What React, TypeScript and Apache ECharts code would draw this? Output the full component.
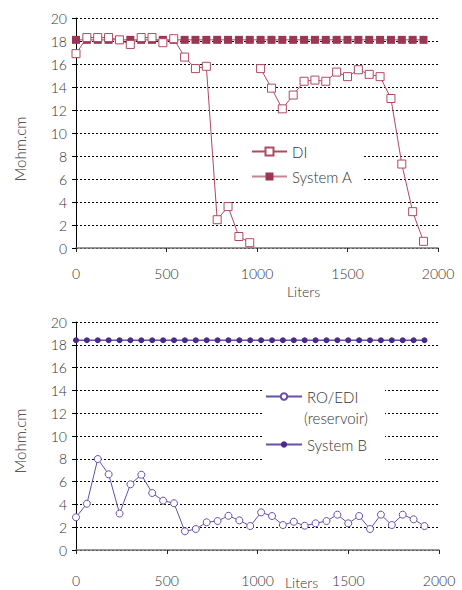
import React, { useEffect, useRef } from "react";
import * as echarts from "echarts";

const FONT = "Lato, 'DejaVu Sans', sans-serif";
const FW = 300;

// Top chart (DI vs System A)
const diX1 = [0, 60, 120, 180, 240, 300, 360, 420, 480, 540, 600, 660, 720, 780, 840, 900, 960];
const diY1 = [16.9, 18.3, 18.3, 18.3, 18.1, 17.7, 18.3, 18.3, 17.85, 18.2, 16.6, 15.6, 15.8, 2.46, 3.6, 1.0, 0.46];
const diX2 = [1020, 1080, 1140, 1200, 1260, 1320, 1380, 1440, 1500, 1560, 1620, 1680, 1740, 1800, 1860, 1920];
const diY2 = [15.6, 13.9, 12.1, 13.3, 14.5, 14.6, 14.5, 15.3, 14.9, 15.5, 15.1, 14.9, 13.0, 7.3, 3.16, 0.58];
const sysAX = [0, 60, 120, 180, 240, 300, 360, 420, 480, 540, 600, 660, 720, 780, 840, 900, 960, 1020, 1080, 1140, 1200, 1260, 1320, 1380, 1440, 1500, 1560, 1620, 1680, 1740, 1800, 1860, 1920];
const sysAY = [18.1, 18.1, 18.1, 18.1, 18.1, 18.1, 18.1, 18.1, 18.1, 18.1, 18.1, 18.1, 18.1, 18.1, 18.1, 18.1, 18.1, 18.1, 18.1, 18.1, 18.1, 18.1, 18.1, 18.1, 18.1, 18.1, 18.1, 18.1, 18.1, 18.1, 18.1, 18.1, 18.1];

// Bottom chart (RO/EDI vs System B)
const roX = [0, 60, 120, 180, 240, 300, 360, 420, 480, 540, 600, 660, 720, 780, 840, 900, 960, 1020, 1080, 1140, 1200, 1260, 1320, 1380, 1440, 1500, 1560, 1620, 1680, 1740, 1800, 1860, 1920];
const roY = [2.87, 4.06, 7.98, 6.64, 3.2, 5.76, 6.6, 5.0, 4.33, 4.1, 1.64, 1.84, 2.43, 2.54, 3.0, 2.6, 2.1, 3.3, 2.98, 2.19, 2.48, 2.13, 2.34, 2.54, 3.1, 2.34, 2.98, 1.84, 3.1, 2.19, 3.1, 2.69, 2.1];
const sysBX = roX;
const sysBY = [18.4, 18.4, 18.4, 18.4, 18.4, 18.4, 18.4, 18.4, 18.4, 18.4, 18.4, 18.4, 18.4, 18.4, 18.4, 18.4, 18.4, 18.4, 18.4, 18.4, 18.4, 18.4, 18.4, 18.4, 18.4, 18.4, 18.4, 18.4, 18.4, 18.4, 18.4, 18.4, 18.4];

const xTicks = { min: 0, max: 2000, interval: 500 };
const yTicks = { min: 0, max: 20, interval: 2 };

const zip = (xs: number[], ys: number[]) => xs.map((x, i) => [x, ys[i]]);

const MAROON = "#9b3752";
const MAROON_LINE = "#b04a63";
const PINK_LINE = "#c98393";
const PURPLE = "#4a2a8a";
const PURPLE_LINE = "#6650aa";

function xAxis(gridIndex: number, margin: number) {
  return {
    type: "value",
    gridIndex,
    ...xTicks,
    axisLine: { show: true, lineStyle: { color: "#777", width: 1.5 } },
    axisTick: { show: true, length: 4, lineStyle: { color: "#222" } },
    axisLabel: { color: "#333", fontSize: 14, fontFamily: FONT, fontWeight: FW, margin, formatter: (v: number) => String(v) },
    splitLine: { show: false },
  };
}

function yAxis(gridIndex: number) {
  return {
    type: "value",
    gridIndex,
    ...yTicks,
    axisLine: { show: true, onZero: false, lineStyle: { color: "#000", width: 1 } },
    axisTick: { show: true, length: 4, lineStyle: { color: "#000" } },
    axisLabel: { color: "#333", fontSize: 14, fontFamily: FONT, fontWeight: FW, margin: 9 },
    splitLine: { show: true, lineStyle: { color: "#000", type: [2, 2], width: 1 } },
  };
}

export default function App() {
  const ref = useRef<HTMLDivElement>(null);
  useEffect(() => {
    document.body.style.margin = "0";
    const chart = echarts.init(ref.current!, undefined, { renderer: "svg" });
    const txt = { fill: "#333", fontFamily: FONT, fontWeight: FW };
    chart.setOption({
      animation: false,
      backgroundColor: "#fff",
      textStyle: { fontFamily: FONT },
      grid: [
        { left: 76, top: 18, width: 362, height: 230 },
        { left: 76, top: 322, width: 363, height: 228 },
      ],
      xAxis: [xAxis(0, 18), xAxis(1, 23)],
      yAxis: [yAxis(0), yAxis(1)],
      legend: [
        {
          orient: "vertical",
          left: 240,
          top: 139,
          itemWidth: 35,
          itemHeight: 10,
          itemGap: 10,
          padding: [5, 10, 5, 11],
          backgroundColor: "#fff",
          textStyle: { fontSize: 15, color: "#333", fontFamily: FONT, fontWeight: FW },
          data: ["DI", "System A"],
        },
        {
          orient: "vertical",
          left: 262,
          top: 377,
          itemWidth: 36,
          itemHeight: 8,
          itemGap: 33,
          padding: [12, 18, 12, 3],
          backgroundColor: "#fff",
          textStyle: { fontSize: 15, color: "#333", fontFamily: FONT, fontWeight: FW },
          data: ["RO/EDI", "System B"],
        },
      ],
      graphic: [
        { type: "text", left: 287, top: 284, z: 100, style: { text: "Liters", fontSize: 14, ...txt } },
        { type: "text", left: 285, top: 575, z: 100, style: { text: "Liters", fontSize: 14, ...txt } },
        { type: "text", x: 20, y: 149, rotation: Math.PI / 2, z: 100, style: { text: "Mohm.cm", fontSize: 15, ...txt, align: "center", verticalAlign: "middle" } },
        { type: "text", x: 20, y: 441, rotation: Math.PI / 2, z: 100, style: { text: "Mohm.cm", fontSize: 15, ...txt, align: "center", verticalAlign: "middle" } },
        { type: "text", x: 304, y: 418, z: 100, style: { text: "(reservoir)", fontSize: 15, ...txt, align: "left", verticalAlign: "middle" } },
      ],
      series: [
        {
          name: "System A",
          type: "line",
          xAxisIndex: 0,
          yAxisIndex: 0,
          data: zip(sysAX, sysAY),
          symbol: "rect",
          symbolSize: 8,
          itemStyle: { color: MAROON },
          lineStyle: { color: PINK_LINE, width: 1.5 },
          z: 3,
        },
        {
          name: "DI",
          type: "line",
          xAxisIndex: 0,
          yAxisIndex: 0,
          data: zip(diX1, diY1),
          symbol: "rect",
          symbolSize: 8,
          itemStyle: { color: "#fff", borderColor: MAROON_LINE, borderWidth: 1 },
          lineStyle: { color: MAROON_LINE, width: 1 },
          z: 4,
        },
        {
          name: "DI",
          type: "line",
          xAxisIndex: 0,
          yAxisIndex: 0,
          data: zip(diX2, diY2),
          symbol: "rect",
          symbolSize: 8,
          itemStyle: { color: "#fff", borderColor: MAROON_LINE, borderWidth: 1 },
          lineStyle: { color: MAROON_LINE, width: 1 },
          z: 4,
        },
        {
          name: "System B",
          type: "line",
          xAxisIndex: 1,
          yAxisIndex: 1,
          data: zip(sysBX, sysBY),
          symbol: "circle",
          symbolSize: 6,
          itemStyle: { color: PURPLE },
          lineStyle: { color: PURPLE_LINE, width: 1.5 },
          z: 3,
        },
        {
          name: "RO/EDI",
          type: "line",
          xAxisIndex: 1,
          yAxisIndex: 1,
          data: zip(roX, roY),
          symbol: "circle",
          symbolSize: 7,
          itemStyle: { color: "#fff", borderColor: PURPLE_LINE, borderWidth: 1 },
          lineStyle: { color: PURPLE_LINE, width: 1 },
          z: 4,
        },
      ],
    });
    return () => chart.dispose();
  }, []);
  return <div ref={ref} style={{ width: 462, height: 590 }} />;
}
